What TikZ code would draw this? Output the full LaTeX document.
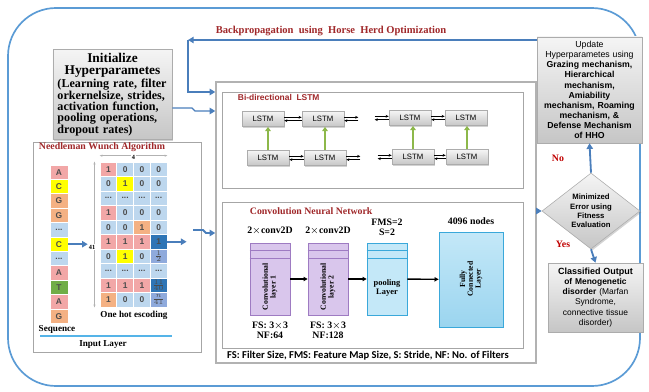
\documentclass[tikz,border=0pt]{standalone}
\usepackage{fontspec}
\setmainfont{Liberation Serif}
\setsansfont{Liberation Sans}
\newfontfamily\calibfont{Carlito}
\usetikzlibrary{arrows.meta,positioning,shapes.geometric,shadows}
\definecolor{Frame}{HTML}{5B9BD5}
\definecolor{ArrowBlue}{HTML}{4A7EBB}
\definecolor{DarkRed}{HTML}{A0282A}
\definecolor{NoRed}{HTML}{C00000}
\definecolor{Pink}{HTML}{F2A7A7}
\definecolor{Yel}{HTML}{FFFF00}
\definecolor{Org}{HTML}{F4B183}
\definecolor{Cell}{HTML}{BDD7EE}
\definecolor{Grn}{HTML}{70AD47}
\definecolor{DeepBlue}{HTML}{2E75B6}
\definecolor{MidBlue}{HTML}{8FAADC}
\definecolor{LineBlue}{HTML}{55B4E8}
\definecolor{Violet}{HTML}{D9C6EC}
\definecolor{VioletEdge}{HTML}{9E7BC2}
\definecolor{Sky}{HTML}{C4E8F8}
\definecolor{SkyEdge}{HTML}{3AA8DA}
\definecolor{LeafGreen}{HTML}{8DB84A}
\newcommand{\fsz}[1]{\fontsize{#1}{#1}\selectfont}
\newcommand{\gapmark}{...}
\newcommand{\fullline}[1]{\makebox[27.5mm][s]{#1}}

\begin{document}
\begin{tikzpicture}[x=0.25mm,y=-0.25mm,
    graybox/.style={draw=gray!65,top color=gray!8,bottom color=gray!45,
      drop shadow={shadow xshift=1pt,shadow yshift=-1pt,opacity=0.35}},
    panel/.style={draw=gray!70,line width=0.6pt,fill=white},
    lstm/.style={graybox,minimum width=10.5mm,minimum height=3.8mm,inner sep=0,
      font=\sffamily\fsz{5.5}},
    pair/.style={-{Stealth[length=2.2pt,width=2pt]},line width=0.4pt},
    upward/.style={-{Triangle[length=3pt,width=4pt]},LeafGreen,line width=1.3pt},
    flow/.style={-{Triangle[length=4pt,width=4.5pt]},ArrowBlue,line width=1.3pt},
    cnnarrow/.style={-{Triangle[length=3pt,width=3pt]},line width=1pt},
    conv/.style={draw=VioletEdge,fill=Violet,minimum width=10mm,minimum height=18mm,inner sep=0},
    pool/.style={draw=SkyEdge,fill=Sky,minimum width=10mm,minimum height=18mm,inner sep=0},
    seqcell/.style={draw=white,line width=0.5pt,minimum width=4.5mm,minimum height=3.6mm,
      inner sep=0,font=\sffamily\bfseries\fsz{6},text=black!70},
    cell/.style={seqcell,minimum width=4.19mm,minimum height=3.62mm},
    title/.style={font=\bfseries\fsz{7},text=DarkRed},
    lbl/.style={font=\bfseries\fsz{7}},
    vtext/.style={rotate=90,align=center,font=\bfseries\fsz{5.5}}]
  \useasboundingbox (0,0) rectangle (649,391);
  \draw[Frame,line width=1.2pt,rounded corners=12mm] (8,8) rectangle (640,386);

  % backpropagation loop
  \node[title,font=\bfseries\fsz{7.5}] (bptext) at (331,31) {Backpropagation \ using \ Horse \ Herd Optimization};

  % network panels
  \node[panel,line width=1pt,draw=gray!60,minimum width=80mm,minimum height=70.25mm] (net) at (376,222.5) {};
  \node[panel,minimum width=75.25mm,minimum height=24mm] (bil) at (372.5,140) {};
  \node[panel,minimum width=75.25mm,minimum height=36.5mm] (cnn) at (372.5,275) {};
  \node[font=\calibfont\bfseries\fsz{7.5}] (cap) at (368,356) {FS: Filter Size, FMS: Feature Map Size, S: Stride, NF: No. of Filters};

  \node[font=\sffamily\bfseries\fsz{6},text=DarkRed,anchor=west] (biltitle) at (233,97) {Bi-directional \ LSTM};
  \node[lstm] (t1) at (263,119) {LSTM};
  \node[lstm] (t2) at (323,119) {LSTM};
  \node[lstm] (t3) at (410,118) {LSTM};
  \node[lstm] (t4) at (466,118) {LSTM};
  \node[lstm] (b1) at (268,158) {LSTM};
  \node[lstm] (b2) at (325,158) {LSTM};
  \node[lstm] (b3) at (413,157) {LSTM};
  \node[lstm] (b4) at (467,157) {LSTM};
  \foreach \l/\r in {t1/t2,t3/t4,b1/b2,b3/b4} {
    \draw[pair] ([yshift=1.2pt]\l.east) -- ([yshift=1.2pt]\r.west);
    \draw[pair] ([yshift=-1.2pt]\r.west) -- ([yshift=-1.2pt]\l.east);
  }
  \foreach \n in {t2,b2} {
    \draw[pair] ([yshift=1.2pt]\n.east) -- ([yshift=1.2pt,xshift=3.5mm]\n.east);
    \draw[pair] ([yshift=-1.2pt,xshift=3.5mm]\n.east) -- ([yshift=-1.2pt]\n.east);
  }
  \foreach \n in {t3,b3} {
    \draw[pair] ([yshift=1.2pt,xshift=-3.5mm]\n.west) -- ([yshift=1.2pt]\n.west);
    \draw[pair] ([yshift=-1.2pt]\n.west) -- ([yshift=-1.2pt,xshift=-3.5mm]\n.west);
  }
  \foreach \b/\t in {b1/t1,b2/t2,b3/t3,b4/t4}
    \draw[upward] (\b.north) -- (\b.north |- \t.south);

  % convolution part
  \node[title,anchor=west] (cnntitle) at (245,211) {Convolution Neural Network};
  \node[conv] (c1) at (270,279) {};
  \node[conv] (c2) at (328,279) {};
  \node[pool] (pl) at (387,279) {};
  \node[pool,top color=Sky,bottom color=Sky!70!SkyEdge,minimum width=16mm,minimum height=23.75mm] (fc) at (471,279.5) {};
  \foreach \n/\e in {c1/VioletEdge,c2/VioletEdge,pl/SkyEdge} {
    \draw[\e] ([yshift=-2mm]\n.north west) -- ([yshift=-2mm]\n.north east);
    \draw[\e] ([yshift=-4mm]\n.north west) -- ([yshift=-4mm]\n.north east);
  }
  \node[vtext] (c1txt) at (270,287) {Convolutional\\layer 1};
  \node[vtext] (c2txt) at (328,287) {Convolutional\\layer 2};
  \node[align=center,font=\bfseries\fsz{6}] (pltxt) at (387,288) {pooling\\Layer};
  \node[vtext] (fctxt) at (471,279) {Fully\\Connected\\Layer};
  \draw[cnnarrow] (c1) -- (c2);
  \draw[cnnarrow] (c2) -- (pl);
  \draw[cnnarrow] (pl) -- (fc);
  \node[lbl,above=0.8mm of c1] (c1top) {2$\times$conv2D};
  \node[lbl,above=0.8mm of c2] (c2top) {2$\times$conv2D};
  \node[lbl,above=0.5mm of pl,align=center] (pltop) {FMS=2\\S=2};
  \node[lbl,above=0.5mm of fc] (fctop) {4096 nodes};
  \node[lbl,below=0.5mm of c1,align=center] (c1bot) {FS: 3$\times$3\\NF:64};
  \node[lbl,below=0.5mm of c2,align=center] (c2bot) {FS: 3$\times$3\\NF:128};

  % input layer
  \node[panel,minimum width=42mm,minimum height=52.5mm] (inp) at (117,247) {};
  \node[title] (nwtitle) at (102,147) {Needleman Wunch Algorithm};
  \foreach \t/\f [count=\i from 0] in {A/Pink,C/Yel,G/Org,G/Org,\gapmark/Cell,C/Yel,\gapmark/Cell,A/Pink,T/Grn,A/Pink,G/Org}
    \node[seqcell,fill=\f] (s-\i) at (59,{172.2+\i*14.4}) {\t};
  \foreach \t/\f [count=\i from 0] in {
      1/Pink,0/Cell,0/Cell,0/Cell,
      0/Cell,1/Yel,0/Cell,0/Cell,
      \gapmark/Cell,\gapmark/Cell,\gapmark/Cell,\gapmark/Cell,
      1/Pink,0/Cell,0/Cell,0/Cell,
      0/Cell,0/Cell,1/Org,0/Cell,
      1/Pink,1/Pink,1/Pink,1/DeepBlue,
      0/Cell,1/Yel,0/Cell,{$\frac{1}{2}$}/MidBlue,
      \gapmark/Cell,\gapmark/Cell,\gapmark/Cell,\gapmark/Cell,
      1/Pink,1/Pink,1/Pink,{$\frac{11}{40}$}/DeepBlue,
      1/Org,0/Cell,0/Cell,{$\frac{n}{41}$}/MidBlue} {
    \pgfmathtruncatemacro\row{\i/4}
    \pgfmathtruncatemacro\col{mod(\i,4)}
    \node[cell,fill=\f] (g-\i) at ({108.4+\col*16.75},{169.25+\row*14.5}) {\t};
  }
  \draw[{Stealth[length=2pt]}-{Stealth[length=2pt]},gray!60,line width=0.4pt]
    ([xshift=-1.3mm]g-0.north west) -- ([xshift=-1.3mm]g-36.south west);
  \draw[{Stealth[length=2pt]}-{Stealth[length=2pt]},gray!60,line width=0.4pt]
    ([yshift=1.5mm]g-0.north west) -- ([yshift=1.5mm]g-3.north east);
  \node[font=\bfseries\fsz{4.5},fill=white,inner sep=0.6pt] (four) at (133.5,157) {4};
  \node[font=\bfseries\fsz{4.5},fill=white,inner sep=0.6pt] (n41) at (92,247) {41};
  \draw[flow] (s-5.east) -- (s-5.east -| n41.west);
  \draw[flow] (g-23.east) -- ([xshift=4.8mm]g-23.east);
  \node[lbl,font=\bfseries\fsz{6.5}] (ohe) at (134,315) {One hot escoding};
  \node[lbl,font=\bfseries\fsz{6.5}] (seq) at (57,329) {Sequence};
  \draw[LineBlue,line width=1.2pt] (40,336) -- (172,336);
  \node[lbl,font=\bfseries\fsz{6.5}] (inlayer) at (103,344) {Input Layer};
  \draw[flow] (193,230) -- (203,230) -- (206,233) -- (net.west |- 0,233);

  % hyperparameters
  \node[graybox,minimum width=29.75mm,minimum height=21.25mm,text width=27.5mm,align=left,
    inner sep=0.9mm,font=\bfseries\fontsize{8.6}{7.7}\selectfont] (init) at (112.5,94.5)
    {{\centering\fontsize{9.5}{8.6}\selectfont Initialize\\Hyperparametes\par}
     \fullline{(Learning rate, filter}\\\fullline{orkernelsize, strides,}\\
     \fullline{activation function,}\\\fullline{pooling operations,}\\dropout rates)};
  \draw[flow,line width=1pt] (init.east |- 0,108) -- (192,108) -- (195,111) -- (net.west |- 0,111);

  % optimisation side
  \node[graybox,minimum width=26.25mm,minimum height=26.5mm,text width=25.5mm,align=center,
    inner sep=0.3mm,font=\sffamily\fontsize{6.2}{7.2}\selectfont] (upd) at (589.5,90)
    {Update\\Hyperparametes using\\\textbf{Grazing mechanism,}\\\textbf{Hierarchical}\\\textbf{mechanism,}\\\textbf{Amiability}\\\textbf{mechanism, Roaming}\\\textbf{mechanism, \&}\\\textbf{Defense Mechanism}\\\textbf{of HHO}};
  \node[diamond,graybox,minimum width=24.5mm,minimum height=19mm,aspect=1.3,inner sep=0,align=center,
    font=\sffamily\bfseries\fontsize{5.5}{6.7}\selectfont] (dia) at (591,211)
    {Minimized\\Error using\\Fitness\\Evaluation};
  \node[graybox,minimum width=23.75mm,minimum height=17.25mm,text width=23mm,align=center,
    inner sep=0.3mm,font=\sffamily\fontsize{6}{7.2}\selectfont] (cls) at (595.5,297.5)
    {\textbf{\fsz{6.4}Classified Output}\\\textbf{of Menogenetic}\\\textbf{disorder} (Marfan\\Syndrome,\\connective tissue\\disorder)};
  \coordinate (bend) at (188,40);
  \draw[flow] (upd.west |- bend) -- (bend);
  \draw[flow] (bend) -- (188,92) -- (net.west |- 0,92);
  \draw[flow,line width=1pt] (net.east |- dia.west) -- (dia.west);
  \draw[flow] (dia.north) -- (upd.south);
  \draw[flow] (dia.south) -- (cls.north);
  \node[font=\bfseries\fsz{7},text=NoRed] (no) at (558,158) {No};
  \node[font=\bfseries\fsz{7},text=NoRed] (yes) at (563,244) {Yes};
\end{tikzpicture}
\end{document}
